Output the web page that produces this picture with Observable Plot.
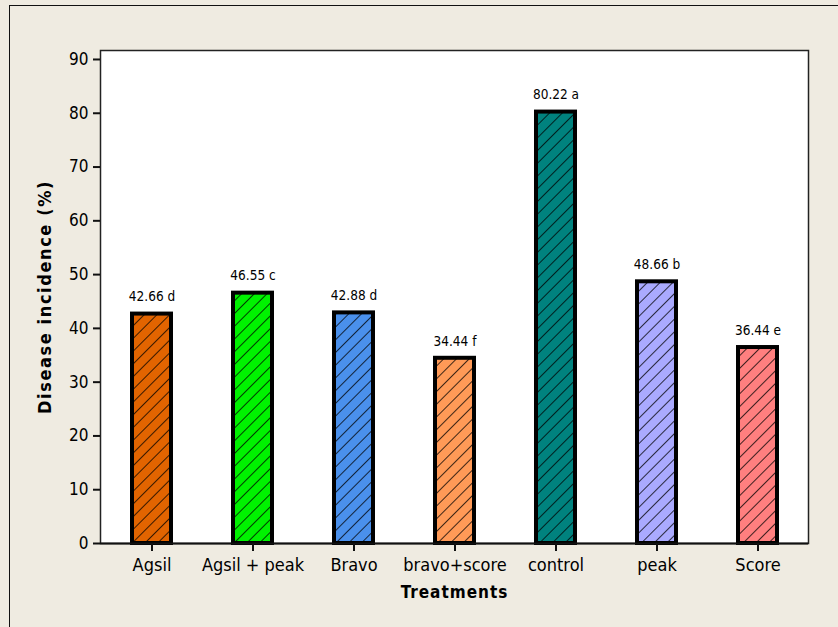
<!DOCTYPE html>
<html>
<head>
<meta charset="utf-8">
<script src="https://cdn.jsdelivr.net/npm/d3@7"></script>
<script src="https://cdn.jsdelivr.net/npm/@observablehq/plot@0.6"></script>
<style>
  html, body { margin: 0; padding: 0; }
  body { width: 838px; height: 627px; background: #EFEBE1; position: relative; overflow: hidden; }
  #border { position: absolute; left: 9px; top: 5px; width: 1000px; height: 1000px; border-left: 1.5px solid #111; border-top: 1.5px solid #111; }
  #chart { position: absolute; left: 0; top: 0; }
  .ytitle text { letter-spacing: 1.6px; }
  .xtitle text { letter-spacing: 1px; }
</style>
</head>
<body>
<div id="border"></div>
<div id="chart"></div>
<script>
const treatments = ["Agsil", "Agsil + peak", "Bravo", "bravo+score", "control", "peak", "Score"];
const incidence = [42.66, 46.55, 42.88, 34.44, 80.22, 48.66, 36.44];
const letters = ["d", "c", "d", "f", "a", "b", "e"];
const barColors = ["#E26400", "#00F200", "#4A90EC", "#FF9A57", "#00827E", "#AAAAFF", "#FF7F7F"];
const yTicks = [0, 10, 20, 30, 40, 50, 60, 70, 80, 90];

const data = treatments.map((t, i) => ({
  treatment: t,
  value: incidence[i],
  label: `${incidence[i].toFixed(2)} ${letters[i]}`,
  color: barColors[i]
}));

const font = "'DejaVu Sans Condensed', 'DejaVu Sans', sans-serif";

const svg = Plot.plot({
  width: 838,
  height: 627,
  marginLeft: 100,
  marginRight: 30,
  marginTop: 50,
  marginBottom: 84,
  style: { fontFamily: font, background: "transparent", color: "#111" },
  x: { type: "band", domain: treatments, padding: 0, label: null },
  y: { domain: [0, 91.67], label: null },
  color: { type: "identity" },
  marks: [
    Plot.frame({ fill: "white", stroke: "#222", strokeWidth: 1.5 }),
    Plot.barY(data, { x: "treatment", y: "value", fill: "color", insetLeft: 31, insetRight: 31 }),
    Plot.barY(data, { x: "treatment", y: "value", fill: "url(#hatch)", insetLeft: 31, insetRight: 31 }),
    Plot.barY(data, { x: "treatment", y: "value", fill: "none", stroke: "black", strokeWidth: 4, insetLeft: 31, insetRight: 31 }),
    Plot.text(data, { x: "treatment", y: "value", text: "label", dy: -17, fontSize: 13.5, fill: "#000", lineAnchor: "middle" }),
    Plot.ruleY([0], { stroke: "#111", strokeWidth: 2 }),
    Plot.axisY({ ticks: yTicks, tickSize: 7, tickPadding: 5, fontSize: 17, strokeWidth: 2, line: true, label: null, stroke: "#111", fill: "#000" }),
    Plot.axisX({ tickSize: 8, tickPadding: 7, fontSize: 18, strokeWidth: 2, label: null, stroke: "#111", fill: "#000" }),
    Plot.text(["Disease incidence (%)"], { frameAnchor: "left", textAnchor: "middle", dx: -55, rotate: -90, fontSize: 18, fontWeight: "bold", fill: "#000", lineAnchor: "middle", className: "ytitle" }),
    Plot.text(["Treatments"], { frameAnchor: "bottom", dy: 49, fontSize: 17, fontWeight: "bold", fill: "#000", lineAnchor: "middle", className: "xtitle" })
  ]
});

const NS = "http://www.w3.org/2000/svg";
const defs = document.createElementNS(NS, "defs");
const pattern = document.createElementNS(NS, "pattern");
pattern.setAttribute("id", "hatch");
pattern.setAttribute("patternUnits", "userSpaceOnUse");
pattern.setAttribute("width", "9");
pattern.setAttribute("height", "9");
pattern.setAttribute("patternTransform", "rotate(45)");
const line = document.createElementNS(NS, "line");
line.setAttribute("x1", "0"); line.setAttribute("y1", "0");
line.setAttribute("x2", "0"); line.setAttribute("y2", "9");
line.setAttribute("stroke", "#000");
line.setAttribute("stroke-width", "1.5");
pattern.appendChild(line);
defs.appendChild(pattern);
svg.insertBefore(defs, svg.firstChild);

document.getElementById("chart").appendChild(svg);
</script>
</body>
</html>
